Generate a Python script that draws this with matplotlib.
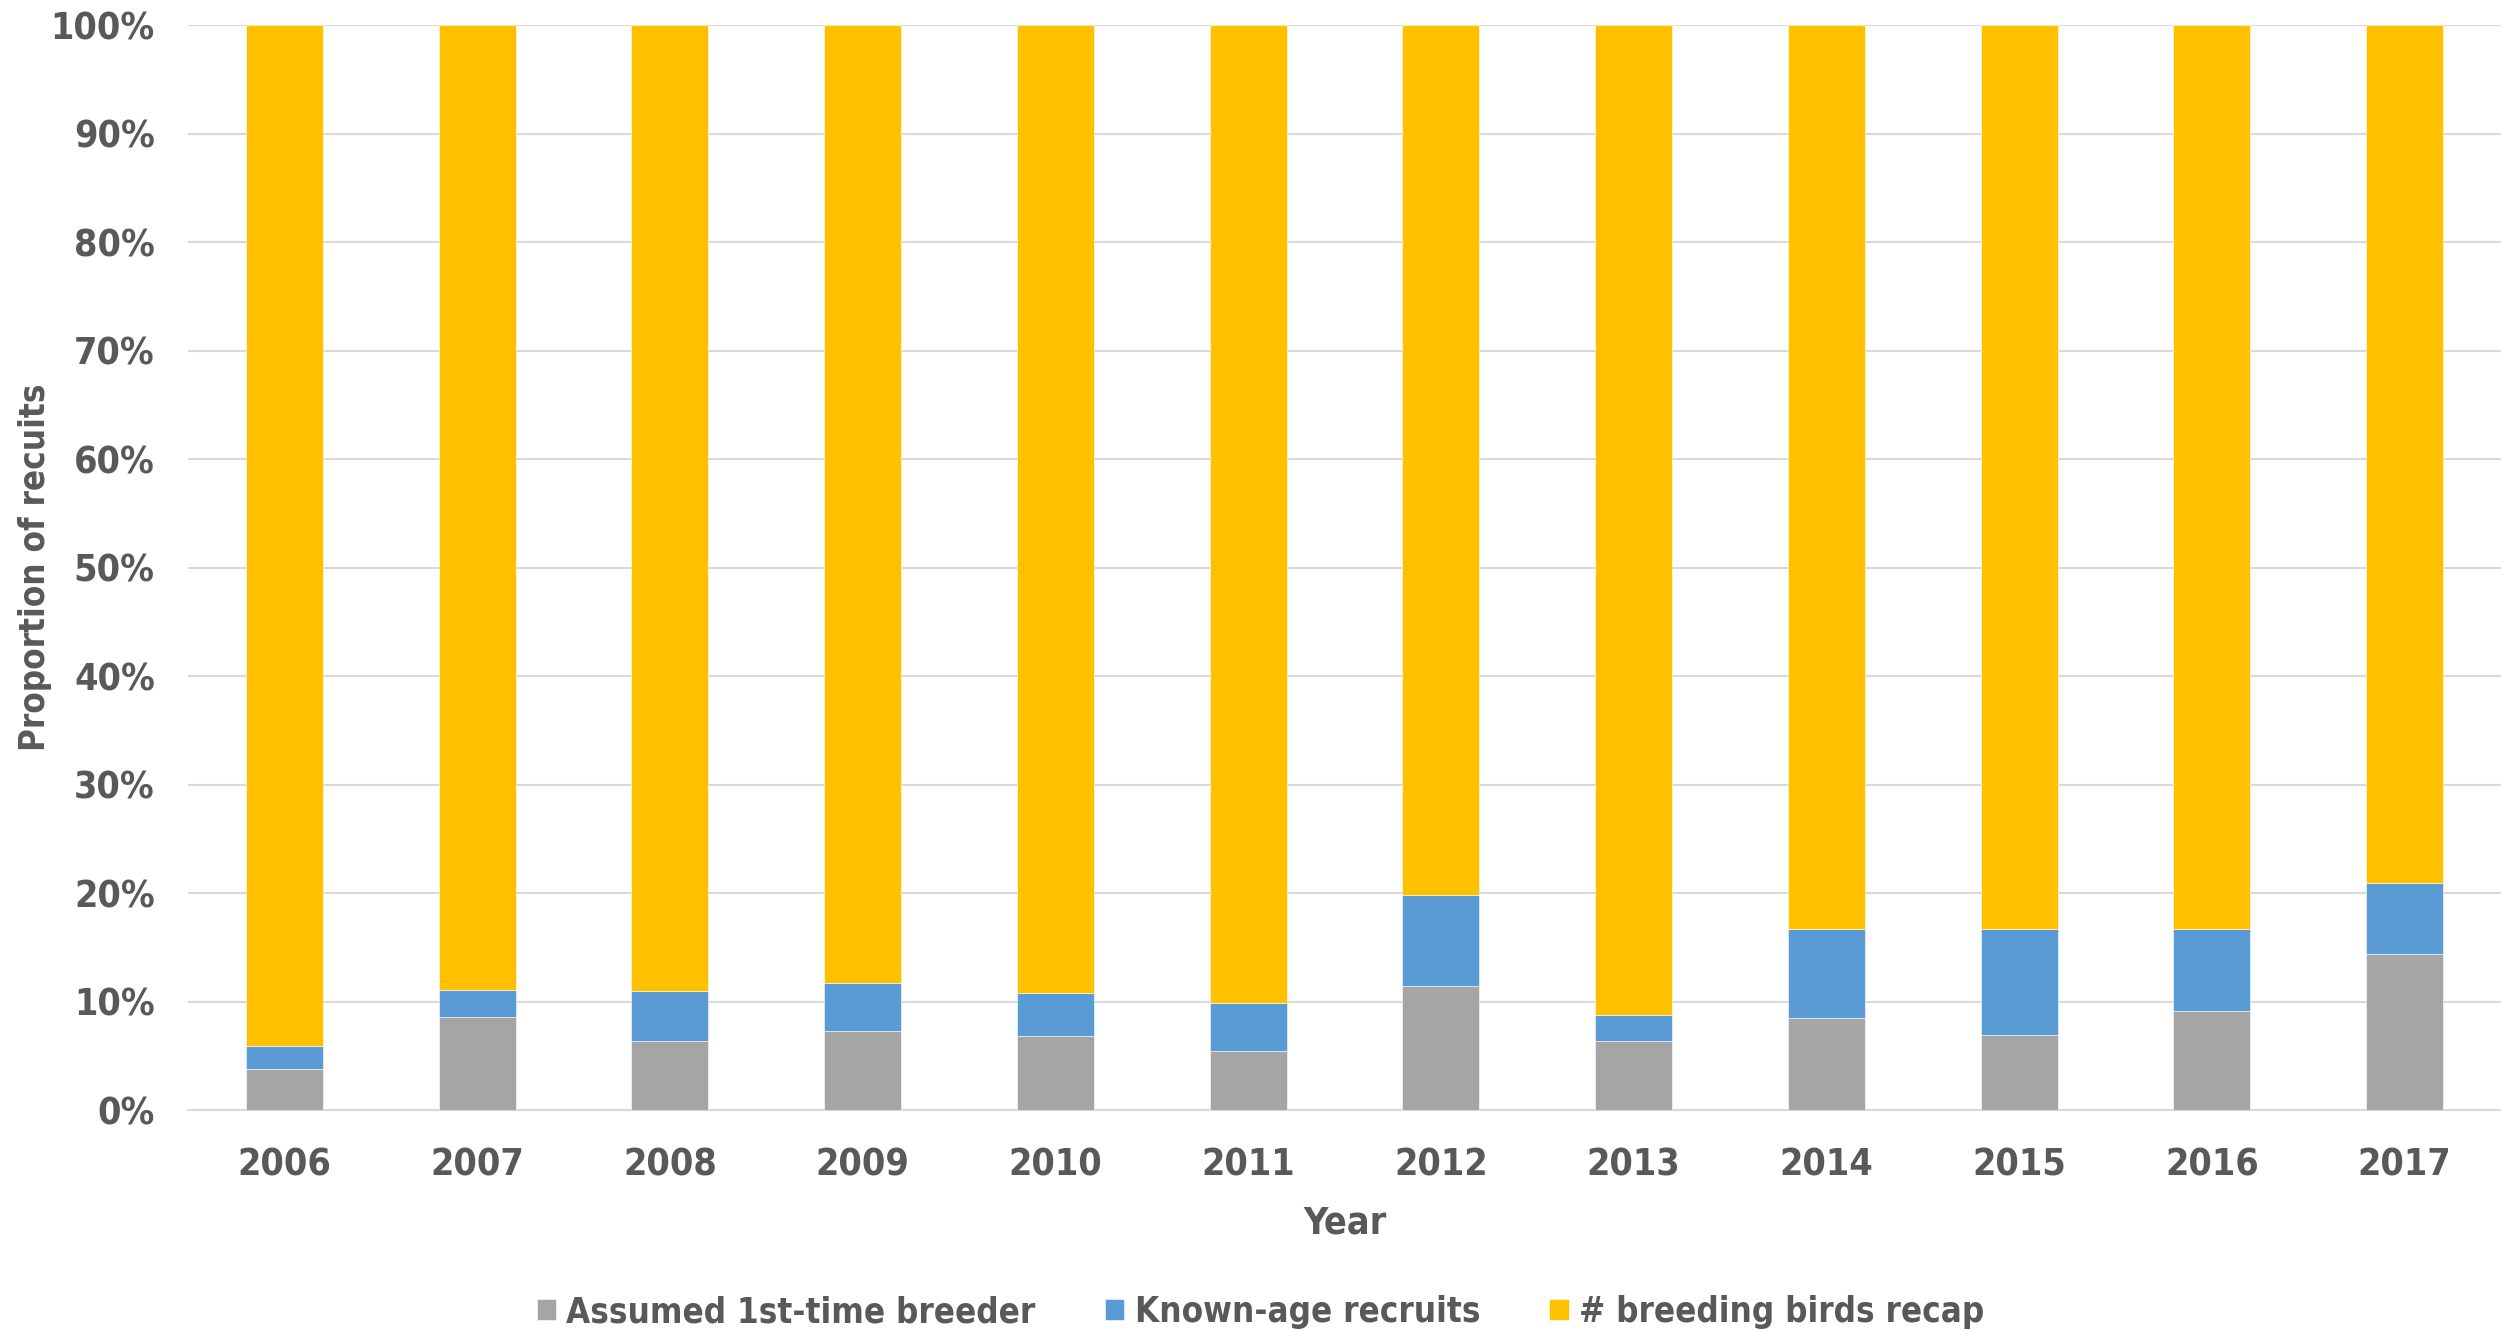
import matplotlib
matplotlib.use("Agg")
import matplotlib.pyplot as plt
import numpy as np
from matplotlib.ticker import PercentFormatter

years = ["2006", "2007", "2008", "2009", "2010", "2011",
         "2012", "2013", "2014", "2015", "2016", "2017"]
assumed_first = [3.8, 8.6, 6.4, 7.3, 6.8, 5.45, 11.4, 6.35, 8.45, 6.95, 9.15, 14.4]
known_age = [2.1, 2.5, 4.55, 4.4, 4.0, 4.4, 8.45, 2.45, 8.25, 9.75, 7.55, 6.5]
recap = [100 - a - k for a, k in zip(assumed_first, known_age)]

series_names = ["Assumed 1st-time breeder", "Known-age recruits", "# breeding birds recap"]
colors = ["#A5A5A5", "#5B9BD5", "#FFC000"]

plt.rcParams['font.family'] = ['DejaVu Sans']
plt.rcParams['font.stretch'] = 'condensed'
plt.rcParams['font.weight'] = 'bold'
txt = "#595959"

fig = plt.figure(figsize=(25.01, 13.31), dpi=100)
ax = fig.add_axes([0.0752, 0.166, 0.9248, 0.815])

x = np.arange(len(years))
bottom = np.zeros(len(years))
for vals, name, c in zip([assumed_first, known_age, recap], series_names, colors):
    ax.bar(x, vals, 0.4, bottom=bottom, color=c, label=name, zorder=3,
           edgecolor="white", linewidth=0.4)
    bottom += np.array(vals)

ax.set_xlim(-0.5, len(years) - 0.5)
ax.set_ylim(0, 100)
ax.set_yticks(np.arange(0, 101, 10))
ax.yaxis.set_major_formatter(PercentFormatter(decimals=0))
ax.grid(axis='y', color="#D9D9D9", linewidth=1.5, zorder=0)
for s in ['top', 'right', 'left']:
    ax.spines[s].set_visible(False)
ax.spines['bottom'].set_color("#D9D9D9")
ax.spines['bottom'].set_linewidth(1.5)
ax.set_xticks(x)
ax.set_xticklabels(years)
ax.tick_params(axis='both', length=0, labelsize=27, colors=txt)
ax.tick_params(axis='x', pad=27)
ax.tick_params(axis='y', pad=24)
ax.set_xlabel("Year", fontsize=27, color=txt, fontweight='bold', labelpad=16)
ax.set_ylabel("Proportion of recuits", fontsize=25, color=txt, fontweight='bold')
ax.yaxis.set_label_coords(-0.059, 0.5)

leg = fig.legend(loc='lower center', bbox_to_anchor=(0.504, -0.022), ncol=3, frameon=False,
                 fontsize=25, handlelength=0.55, handleheight=0.55, handletextpad=0.3,
                 columnspacing=2.0)
for t in leg.get_texts():
    t.set_color(txt)

fig.savefig("out.png", dpi=100)
